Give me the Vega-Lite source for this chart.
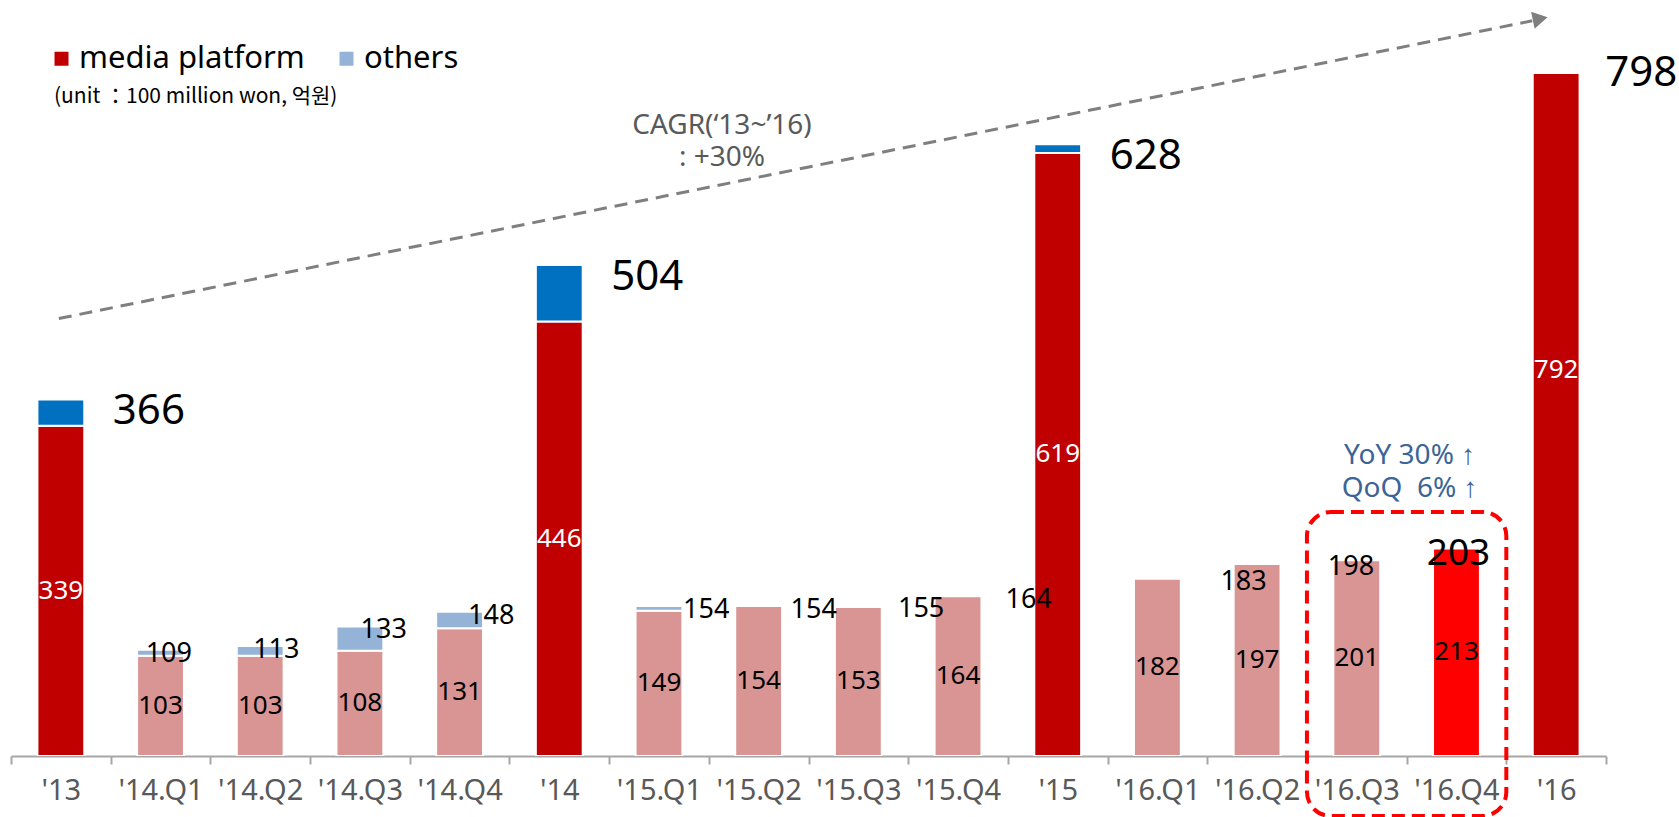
{
  "$schema": "https://vega.github.io/schema/vega-lite/v6.json",
  "width": 1595,
  "height": 682,
  "autosize": {"type": "none"},
  "padding": {"left": 11, "top": 74, "right": 73, "bottom": 61},
  "background": "white",
  "datasets": {
    "bars": [
      {"period": "'13", "series": "media platform", "kind": "annual media", "value": 339},
      {"period": "'13", "series": "others", "kind": "annual others", "value": 27},
      {"period": "'14.Q1", "series": "media platform", "kind": "quarter media", "value": 103},
      {"period": "'14.Q1", "series": "others", "kind": "quarter others", "value": 6},
      {"period": "'14.Q2", "series": "media platform", "kind": "quarter media", "value": 103},
      {"period": "'14.Q2", "series": "others", "kind": "quarter others", "value": 10},
      {"period": "'14.Q3", "series": "media platform", "kind": "quarter media", "value": 108},
      {"period": "'14.Q3", "series": "others", "kind": "quarter others", "value": 25},
      {"period": "'14.Q4", "series": "media platform", "kind": "quarter media", "value": 131},
      {"period": "'14.Q4", "series": "others", "kind": "quarter others", "value": 17},
      {"period": "'14", "series": "media platform", "kind": "annual media", "value": 446},
      {"period": "'14", "series": "others", "kind": "annual others", "value": 58},
      {"period": "'15.Q1", "series": "media platform", "kind": "quarter media", "value": 149},
      {"period": "'15.Q1", "series": "others", "kind": "quarter others", "value": 5},
      {"period": "'15.Q2", "series": "media platform", "kind": "quarter media", "value": 154},
      {"period": "'15.Q3", "series": "media platform", "kind": "quarter media", "value": 153},
      {"period": "'15.Q4", "series": "media platform", "kind": "quarter media", "value": 164},
      {"period": "'15", "series": "media platform", "kind": "annual media", "value": 619},
      {"period": "'15", "series": "others", "kind": "annual others", "value": 9},
      {"period": "'16.Q1", "series": "media platform", "kind": "quarter media", "value": 182},
      {"period": "'16.Q2", "series": "media platform", "kind": "quarter media", "value": 197},
      {"period": "'16.Q3", "series": "media platform", "kind": "quarter media", "value": 201},
      {"period": "'16.Q4", "series": "media platform", "kind": "highlight media", "value": 213},
      {"period": "'16", "series": "media platform", "kind": "annual media", "value": 792},
      {"period": "'16", "series": "others", "kind": "annual others", "value": 6}
    ],
    "totals": [
      {"period": "'13", "total": 366},
      {"period": "'14", "total": 504},
      {"period": "'15", "total": 628},
      {"period": "'16", "total": 798}
    ],
    "outside": [
      {"slot": "'14.Q1", "value": 109},
      {"slot": "'14.Q2", "value": 113},
      {"slot": "'14.Q3", "value": 133},
      {"slot": "'14.Q4", "value": 148},
      {"slot": "'15.Q1", "value": 154},
      {"slot": "'15.Q2", "value": 154},
      {"slot": "'15.Q3", "value": 155},
      {"slot": "'15.Q4", "value": 164},
      {"slot": "'16.Q1", "value": 183},
      {"slot": "'16.Q2", "value": 198},
      {"slot": "'16.Q3", "value": 203}
    ]
  },
  "layer": [
    {
      "data": {"name": "bars"},
      "mark": {"type": "bar", "clip": true, "width": {"band": 0.47}, "stroke": "white", "strokeWidth": 2},
      "encoding": {
        "x": {"field": "period", "type": "nominal", "title": null,
              "scale": {"domain": ["'13","'14.Q1","'14.Q2","'14.Q3","'14.Q4","'14","'15.Q1","'15.Q2","'15.Q3","'15.Q4","'15","'16.Q1","'16.Q2","'16.Q3","'16.Q4","'16"], "paddingInner": 0, "paddingOuter": 0},
              "axis": {"orient": "bottom"}},
        "y": {"field": "value", "type": "quantitative", "stack": "zero", "axis": null,
              "scale": {"domain": [0, 700], "nice": false, "zero": true}},
        "color": {
          "field": "kind", "type": "nominal",
          "scale": {"domain": ["annual media", "annual others", "quarter media", "quarter others", "highlight media"],
                    "range": ["#C00000", "#0070C0", "#D99594", "#95B3D7", "#FF0000"]},
          "legend": {
            "values": ["annual media", "quarter others"],
            "labelExpr": "datum.value == 'annual media' ? 'media platform' : 'others'",
            "orient": "none", "legendX": 43, "legendY": -31,
            "direction": "horizontal", "symbolType": "square", "symbolSize": 196, "symbolStrokeWidth": 0,
            "symbolOffset": -8,
            "labelFontSize": 31, "labelFont": "Noto Sans", "labelColor": "black", "labelOffset": 2, "labelLimit": 600,
            "columnPadding": 34,
            "title": "(unit ：100 million won, 억원)", "titleOrient": "bottom", "titleFont": "Noto Sans CJK KR",
            "titleFontSize": 21, "titleFontWeight": "normal", "titleColor": "black", "titleAnchor": "start",
            "titleLimit": 800, "titlePadding": 12, "padding": 0
          }
        },
        "order": {"field": "series", "sort": "ascending"}
      }
    },
    {
      "data": {"name": "bars"},
      "transform": [
        {"filter": "datum.series == 'media platform'"},
        {"calculate": "datum.value / 2", "as": "mid"}
      ],
      "mark": {"type": "text", "fontSize": 26, "baseline": "middle", "align": "center"},
      "encoding": {
        "x": {"field": "period", "type": "nominal"},
        "y": {"field": "mid", "type": "quantitative", "axis": null},
        "text": {"field": "value"},
        "color": {"condition": {"test": "datum.kind == 'annual media'", "value": "white"}, "value": "black"}
      }
    },
    {
      "data": {"name": "totals"},
      "transform": [{"filter": "datum.period != \"'16\""}],
      "mark": {"type": "text", "fontSize": 42, "align": "left", "baseline": "middle", "dx": 52, "dy": 12, "color": "black"},
      "encoding": {
        "x": {"field": "period", "type": "nominal"},
        "y": {"field": "total", "type": "quantitative", "axis": null},
        "text": {"field": "total"}
      }
    },
    {
      "data": {"name": "totals"},
      "transform": [{"filter": "datum.period == \"'16\""}],
      "mark": {"type": "text", "fontSize": 42, "align": "left", "baseline": "middle", "dx": 49, "color": "black"},
      "encoding": {
        "x": {"field": "period", "type": "nominal"},
        "y": {"datum": 701, "type": "quantitative", "axis": null},
        "text": {"field": "total"}
      }
    },
    {
      "data": {"name": "outside"},
      "transform": [{"filter": "datum.slot != \"'16.Q3\""}],
      "mark": {"type": "text", "fontSize": 27, "baseline": "middle", "align": "center", "dy": 4, "color": "black"},
      "encoding": {
        "x": {"field": "slot", "type": "nominal"},
        "xOffset": {"field": "slot", "type": "nominal",
                    "scale": {"domain": ["'13","'14.Q1","'14.Q2","'14.Q3","'14.Q4","'14","'15.Q1","'15.Q2","'15.Q3","'15.Q4","'15","'16.Q1","'16.Q2","'16.Q3","'16.Q4","'16"], "range": [50.35, 167.15], "paddingInner": 0, "paddingOuter": 0}},
        "y": {"field": "value", "type": "quantitative", "axis": null},
        "text": {"field": "value"}
      }
    },
    {
      "data": {"name": "outside"},
      "transform": [{"filter": "datum.slot == \"'16.Q3\""}],
      "mark": {"type": "text", "fontSize": 37, "baseline": "middle", "align": "center", "dy": -4, "color": "black"},
      "encoding": {
        "x": {"field": "slot", "type": "nominal"},
        "xOffset": {"field": "slot", "type": "nominal",
                    "scale": {"domain": ["'13","'14.Q1","'14.Q2","'14.Q3","'14.Q4","'14","'15.Q1","'15.Q2","'15.Q3","'15.Q4","'15","'16.Q1","'16.Q2","'16.Q3","'16.Q4","'16"], "range": [50.35, 167.15], "paddingInner": 0, "paddingOuter": 0}},
        "y": {"field": "value", "type": "quantitative", "axis": null},
        "text": {"field": "value"}
      }
    },
    {
      "data": {"values": [{}]},
      "mark": {"type": "rule", "color": "#7F7F7F", "strokeWidth": 3, "strokeDash": [13, 8]},
      "encoding": {
        "x": {"datum": "'13", "type": "nominal", "bandPosition": 0.48},
        "x2": {"datum": "'16", "bandPosition": 0.26},
        "y": {"datum": 449, "type": "quantitative", "axis": null},
        "y2": {"datum": 754.6}
      }
    },
    {
      "data": {"values": [{}]},
      "mark": {"type": "point", "shape": "triangle-right", "filled": true, "color": "#7F7F7F", "opacity": 1, "size": 300, "angle": 348.5},
      "encoding": {
        "x": {"datum": "'16", "type": "nominal", "bandPosition": 0.34},
        "y": {"datum": 756.7, "type": "quantitative", "axis": null}
      }
    },
    {
      "data": {"values": [{}]},
      "mark": {"type": "text", "text": ["CAGR(‘13~’16)", ": +30%"], "fontSize": 28, "lineHeight": 32, "align": "center", "baseline": "middle", "color": "#595959", "dx": 63},
      "encoding": {
        "x": {"datum": "'15.Q1", "type": "nominal"},
        "y": {"datum": 647, "type": "quantitative", "axis": null}
      }
    },
    {
      "data": {"values": [{}]},
      "mark": {"type": "text", "text": ["YoY 30% ↑", "QoQ \u00a06% ↑"], "fontSize": 28, "lineHeight": 33, "align": "center", "baseline": "middle", "color": "#3B6497", "dx": 3},
      "encoding": {
        "x": {"datum": "'16.Q4", "type": "nominal", "bandPosition": 0},
        "y": {"datum": 308, "type": "quantitative", "axis": null}
      }
    },
    {
      "data": {"values": [{}]},
      "mark": {"type": "rect", "filled": false, "stroke": "#FF0000", "strokeWidth": 4, "strokeDash": [13, 7], "cornerRadius": 24},
      "encoding": {
        "x": {"datum": "'16.Q3", "type": "nominal", "bandPosition": 0},
        "x2": {"datum": "'16.Q4", "bandPosition": 1},
        "y": {"datum": 250.5, "type": "quantitative", "axis": null},
        "y2": {"datum": -61.6}
      }
    }
  ],
  "resolve": {"scale": {"xOffset": "independent"}},
  "config": {
    "font": "Noto Sans",
    "view": {"stroke": null},
    "axisX": {
      "domainColor": "#A6A6A6", "domainWidth": 2, "tickColor": "#A6A6A6", "tickWidth": 2, "tickSize": 8,
      "tickBand": "extent", "labelFont": "Noto Sans", "labelFontSize": 29, "labelColor": "#595959",
      "labelPadding": 12, "labelAngle": 0, "titleFontSize": 1, "zindex": 1, "grid": false
    }
  }
}
